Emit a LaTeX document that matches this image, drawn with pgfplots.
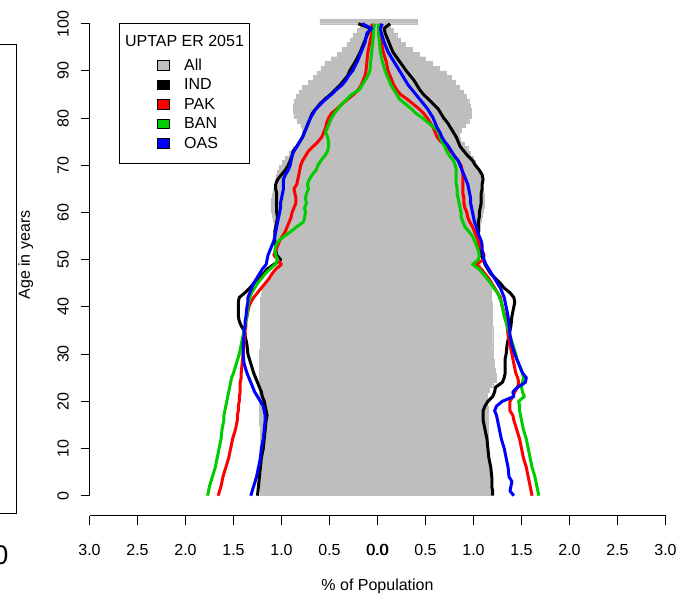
\documentclass[border=0pt]{standalone}
\usepackage{pgfplots}
\usepackage{pgfplotstable}
\usepackage{fontspec}
\setmainfont{Liberation Sans}
\pgfplotsset{compat=1.18}

\definecolor{allgrey}{RGB}{190,190,190}
\definecolor{indcol}{RGB}{0,0,0}
\definecolor{pakcol}{RGB}{255,0,0}
\definecolor{bancol}{RGB}{0,205,0}
\definecolor{oascol}{RGB}{0,0,255}

% All groups: share of population by single year of age (left = males, right = females)
\pgfplotstableread{
age L R
0 1.22 1.17
1 1.22 1.17
2 1.22 1.16
3 1.22 1.16
4 1.22 1.16
5 1.22 1.16
6 1.22 1.16
7 1.22 1.15
8 1.22 1.15
9 1.22 1.15
10 1.22 1.15
11 1.22 1.15
12 1.22 1.15
13 1.22 1.15
14 1.22 1.15
15 1.23 1.15
16 1.23 1.15
17 1.23 1.15
18 1.23 1.15
19 1.23 1.14
20 1.23 1.14
21 1.23 1.14
22 1.23 1.16
23 1.23 1.20
24 1.23 1.24
25 1.23 1.24
26 1.23 1.23
27 1.23 1.22
28 1.23 1.22
29 1.23 1.21
30 1.23 1.21
31 1.22 1.20
32 1.22 1.20
33 1.22 1.20
34 1.22 1.20
35 1.22 1.20
36 1.22 1.19
37 1.22 1.19
38 1.22 1.19
39 1.22 1.19
40 1.22 1.19
41 1.22 1.18
42 1.21 1.18
43 1.20 1.18
44 1.18 1.17
45 1.15 1.15
46 1.12 1.13
47 1.09 1.10
48 1.07 1.07
49 1.05 1.04
50 1.04 1.03
51 1.04 1.04
52 1.04 1.05
53 1.04 1.05
54 1.05 1.06
55 1.06 1.06
56 1.07 1.07
57 1.08 1.07
58 1.09 1.08
59 1.10 1.09
60 1.11 1.10
61 1.11 1.11
62 1.11 1.11
63 1.10 1.11
64 1.09 1.10
65 1.08 1.09
66 1.07 1.08
67 1.06 1.07
68 1.04 1.06
69 1.02 1.04
70 0.99 1.02
71 0.96 1.00
72 0.92 0.97
73 0.88 0.94
74 0.84 0.90
75 0.80 0.86
76 0.77 0.85
77 0.78 0.87
78 0.80 0.91
79 0.84 0.95
80 0.87 0.98
81 0.88 0.98
82 0.88 0.97
83 0.87 0.95
84 0.85 0.92
85 0.82 0.89
86 0.78 0.85
87 0.72 0.81
88 0.67 0.77
89 0.63 0.72
90 0.59 0.64
91 0.55 0.57
92 0.48 0.50
93 0.42 0.43
94 0.37 0.36
95 0.32 0.29
96 0.28 0.24
97 0.25 0.20
98 0.21 0.16
99 0.18 0.13
100 0.60 0.41
}\allbars

% Ethnic groups, males
\pgfplotstableread{
age ind pak ban oas
0 1.25 1.66 1.77 1.32
2 1.24 1.63 1.75 1.29
4 1.23 1.61 1.72 1.26
6 1.22 1.58 1.69 1.24
8 1.21 1.55 1.67 1.22
10 1.19 1.53 1.65 1.21
12 1.18 1.51 1.63 1.19
14 1.17 1.48 1.62 1.18
16 1.16 1.46 1.60 1.17
17 1.15 1.46 1.60 1.17
18 1.16 1.45 1.59 1.18
19 1.17 1.45 1.58 1.19
20 1.18 1.44 1.57 1.22
21 1.20 1.44 1.56 1.25
22 1.21 1.43 1.55 1.28
23 1.23 1.43 1.54 1.30
24 1.25 1.43 1.53 1.32
25 1.27 1.42 1.52 1.34
26 1.29 1.42 1.50 1.36
28 1.32 1.41 1.47 1.39
30 1.35 1.40 1.44 1.40
32 1.36 1.39 1.42 1.40
34 1.38 1.38 1.40 1.39
35 1.39 1.38 1.39 1.39
36 1.42 1.37 1.38 1.38
37 1.44 1.37 1.37 1.38
38 1.45 1.36 1.36 1.37
40 1.45 1.34 1.35 1.36
41 1.45 1.32 1.34 1.35
42 1.44 1.29 1.33 1.35
43 1.38 1.25 1.31 1.33
44 1.33 1.21 1.28 1.31
45 1.29 1.17 1.25 1.29
46 1.24 1.13 1.21 1.26
47 1.19 1.10 1.17 1.23
48 1.15 1.06 1.12 1.20
49 1.08 1.00 1.07 1.16
50 1.01 1.04 1.04 1.15
51 1.05 1.08 1.06 1.14
52 1.06 1.06 1.07 1.12
53 1.06 1.04 1.06 1.10
54 1.07 1.02 1.03 1.08
55 1.07 0.99 0.97 1.07
56 1.07 0.96 0.90 1.06
57 1.06 0.94 0.84 1.05
58 1.05 0.92 0.77 1.04
59 1.04 0.90 0.76 1.03
60 1.05 0.89 0.75 1.02
61 1.05 0.87 0.76 1.01
62 1.05 0.85 0.74 1.01
63 1.05 0.85 0.75 1.00
64 1.05 0.86 0.74 0.99
65 1.06 0.87 0.72 0.98
66 1.06 0.84 0.73 0.98
67 1.04 0.83 0.71 0.98
68 1.00 0.82 0.68 0.96
69 0.96 0.81 0.64 0.93
70 0.93 0.80 0.62 0.91
71 0.91 0.78 0.59 0.90
72 0.89 0.75 0.55 0.89
73 0.88 0.72 0.52 0.87
74 0.84 0.67 0.51 0.84
75 0.81 0.62 0.51 0.81
76 0.78 0.58 0.52 0.78
77 0.76 0.56 0.54 0.76
78 0.74 0.54 0.52 0.74
79 0.72 0.53 0.50 0.72
80 0.70 0.51 0.48 0.70
81 0.68 0.48 0.45 0.67
82 0.64 0.42 0.41 0.64
83 0.60 0.37 0.37 0.59
84 0.55 0.31 0.32 0.54
85 0.49 0.25 0.27 0.48
86 0.44 0.20 0.19 0.43
87 0.39 0.17 0.16 0.37
88 0.35 0.15 0.13 0.33
89 0.31 0.13 0.10 0.30
90 0.29 0.12 0.08 0.26
92 0.23 0.11 0.07 0.21
94 0.18 0.10 0.06 0.17
96 0.14 0.08 0.05 0.13
98 0.10 0.06 0.04 0.11
99 0.07 0.05 0.04 0.06
100 0.20 0.06 0.03 0.16
}\males

% Ethnic groups, females
\pgfplotstableread{
age ind pak ban oas
0 1.20 1.61 1.68 1.42
1 1.20 1.60 1.67 1.38
2 1.19 1.59 1.66 1.39
3 1.19 1.58 1.65 1.40
4 1.19 1.57 1.64 1.37
6 1.18 1.55 1.61 1.36
8 1.16 1.52 1.59 1.34
10 1.15 1.50 1.57 1.32
12 1.14 1.48 1.55 1.29
14 1.12 1.45 1.52 1.27
16 1.10 1.42 1.50 1.25
17 1.10 1.41 1.49 1.24
18 1.10 1.38 1.48 1.22
19 1.12 1.38 1.48 1.24
20 1.15 1.38 1.47 1.30
21 1.20 1.41 1.53 1.42
22 1.22 1.43 1.51 1.41
23 1.23 1.46 1.50 1.46
24 1.30 1.47 1.51 1.54
25 1.32 1.46 1.52 1.55
26 1.33 1.44 1.51 1.51
27 1.33 1.43 1.49 1.49
28 1.33 1.42 1.47 1.47
29 1.33 1.41 1.45 1.45
30 1.34 1.40 1.44 1.43
32 1.35 1.38 1.41 1.40
34 1.37 1.36 1.38 1.38
36 1.39 1.35 1.35 1.37
38 1.40 1.33 1.32 1.36
40 1.42 1.30 1.30 1.34
41 1.43 1.29 1.29 1.33
42 1.42 1.28 1.27 1.32
43 1.38 1.25 1.25 1.30
44 1.32 1.22 1.21 1.28
45 1.28 1.19 1.18 1.25
46 1.23 1.16 1.14 1.22
47 1.18 1.12 1.10 1.19
48 1.15 1.08 1.06 1.16
49 1.12 1.03 0.99 1.13
50 1.10 1.10 1.05 1.11
51 1.08 1.11 1.06 1.10
52 1.07 1.09 1.05 1.09
53 1.06 1.06 1.03 1.09
54 1.05 1.05 1.01 1.08
55 1.05 1.03 0.99 1.06
56 1.05 1.01 0.95 1.04
57 1.05 0.99 0.91 1.03
58 1.05 0.96 0.89 1.01
59 1.06 0.94 0.87 1.00
60 1.06 0.93 0.87 0.99
61 1.07 0.91 0.86 0.98
62 1.08 0.90 0.85 0.97
63 1.08 0.90 0.84 0.97
64 1.08 0.89 0.83 0.96
65 1.09 0.89 0.83 0.95
66 1.09 0.89 0.82 0.94
67 1.10 0.89 0.82 0.92
68 1.09 0.89 0.82 0.90
69 1.06 0.88 0.82 0.88
70 1.02 0.87 0.81 0.86
71 0.99 0.84 0.79 0.84
72 0.94 0.80 0.75 0.80
73 0.90 0.76 0.72 0.77
74 0.86 0.72 0.70 0.74
75 0.84 0.66 0.67 0.70
76 0.82 0.62 0.65 0.67
77 0.79 0.60 0.64 0.65
78 0.76 0.58 0.59 0.62
79 0.73 0.55 0.53 0.60
80 0.69 0.52 0.47 0.58
81 0.66 0.48 0.40 0.55
82 0.63 0.43 0.35 0.52
83 0.58 0.37 0.29 0.48
84 0.53 0.31 0.23 0.44
85 0.48 0.24 0.20 0.40
86 0.44 0.20 0.17 0.36
87 0.41 0.17 0.14 0.32
88 0.38 0.15 0.12 0.29
89 0.34 0.13 0.10 0.26
90 0.30 0.11 0.08 0.23
92 0.23 0.09 0.05 0.17
94 0.16 0.06 0.03 0.11
96 0.12 0.04 0.02 0.07
98 0.08 0.02 0.01 0.04
99 0.07 0.02 0.01 0.03
100 0.13 0.03 0.01 0.05
}\females

\newcommand{\tickfont}{\fontsize{16bp}{19bp}\selectfont}
\newcommand{\labfont}{\fontsize{16bp}{19bp}\selectfont}
\newcommand{\legfont}{\fontsize{16bp}{19bp}\selectfont}

\begin{document}
\begin{tikzpicture}[x=1bp,y=1bp]
\useasboundingbox (0,0) rectangle (682,596);

% edge of the neighbouring panel
\draw[line width=1bp] (-5,551) -- (16.5,551) -- (16.5,82) -- (-5,82);
\node[font=\fontsize{27bp}{30bp}\selectfont, anchor=base east, inner sep=0pt] at (8.5,31) {0};

% axis titles
\node[font=\labfont, rotate=90, anchor=base, inner sep=0pt] at (29.8,341) {Age in years};
\node[font=\labfont, anchor=base, inner sep=0pt] at (377.5,5) {\% of Population};

\begin{axis}[
  at={(89.5bp,80.3bp)}, anchor=south west,
  scale only axis, width=576bp, height=496.7bp,
  xmin=-3, xmax=3, ymin=-4.237, ymax=101,
  clip=false,
  axis x line*=bottom, axis y line*=left,
  x axis line style={-, line width=1bp},
  y axis line style={draw=none},
  tick align=outside, major tick length=9bp,
  tick style={black, line width=1bp},
  xtick={-3,-2.5,-2,-1.5,-1,-0.5,0,0.5,1,1.5,2,2.5,3},
  xticklabels={3.0,2.5,2.0,1.5,1.0,0.5,{\makebox[0pt][l]{0.0}\hspace{0.7bp}0.0},0.5,1.0,1.5,2.0,2.5,3.0},
  ytick={0,10,...,100},
  yticklabels={0,10,20,30,40,50,60,70,80,90,100},
  xticklabel shift=31bp,
  yticklabel shift=12bp,
  xticklabel style={font=\tickfont, anchor=base, inner sep=0pt},
  yticklabel style={font=\tickfont, rotate=90, anchor=base, inner sep=0pt},
]
% All groups as bars, one per year of age
\addplot[xbar, bar width=1, bar shift=0pt, fill=allgrey, draw=allgrey, line width=0.4bp]
  table[x expr=-\thisrow{L}, y expr=\thisrow{age}+0.5] {\allbars};
\addplot[xbar, bar width=1, bar shift=0pt, fill=allgrey, draw=allgrey, line width=0.4bp]
  table[x=R, y expr=\thisrow{age}+0.5] {\allbars};

% ethnic groups as lines
\pgfplotsset{grp/.style={line width=3bp, line join=round, mark=none}}
\addplot[grp, indcol] table[x expr=-\thisrow{ind}, y=age] {\males};
\addplot[grp, indcol] table[x=ind, y=age] {\females};
\addplot[grp, pakcol] table[x expr=-\thisrow{pak}, y=age] {\males};
\addplot[grp, pakcol] table[x=pak, y=age] {\females};
\addplot[grp, bancol] table[x expr=-\thisrow{ban}, y=age] {\males};
\addplot[grp, bancol] table[x=ban, y=age] {\females};
\addplot[grp, oascol] table[x expr=-\thisrow{oas}, y=age] {\males};
\addplot[grp, oascol] table[x=oas, y=age] {\females};

% age axis line spans 0 to 100 only
\draw[line width=1bp] (axis cs:-3,0) -- (axis cs:-3,100);
\end{axis}

% legend
\draw[line width=1bp, fill=white] (119.5,572.5) rectangle (249.5,432.5);
\node[font=\legfont, anchor=base, inner sep=0pt] at (184.5,549) {UPTAP ER 2051};
\foreach \c/\t [count=\i from 0] in {allgrey/All, indcol/IND, pakcol/PAK, bancol/BAN, oascol/OAS}{
  \pgfmathsetmacro{\yb}{525.5-19.5*\i}
  \draw[line width=0.6bp, fill=\c] (157.5,\yb+0.5) rectangle (169.3,\yb+10);
  \node[font=\legfont, anchor=base west, inner sep=0pt] at (184,\yb) {\t};
}
\end{tikzpicture}
\end{document}
